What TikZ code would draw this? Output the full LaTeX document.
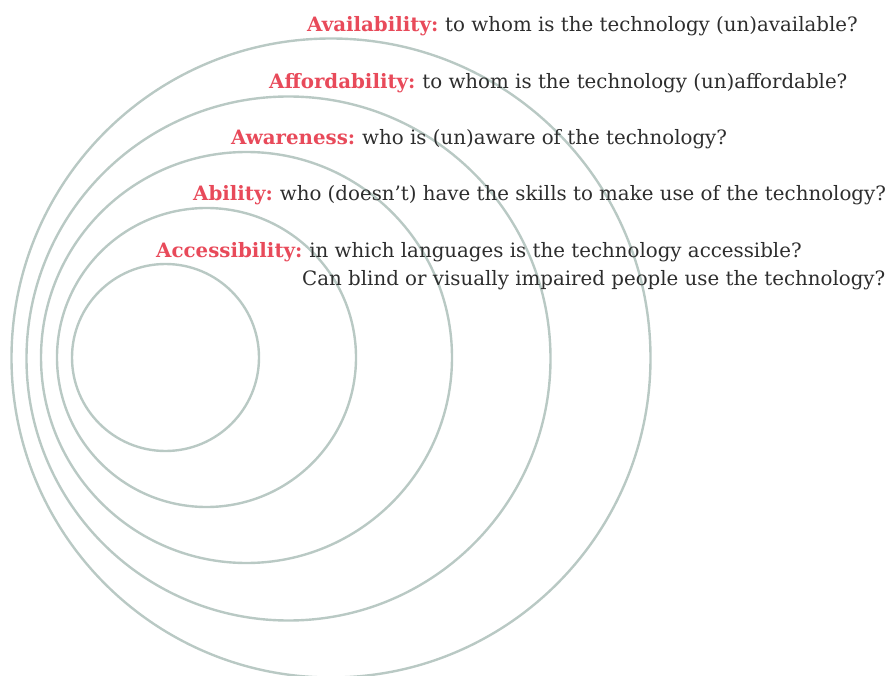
\documentclass[tikz,border=0pt]{standalone}
\usepackage{fontspec}
\setmainfont{DejaVu Serif}
\definecolor{ringcol}{RGB}{185,201,196}
\definecolor{headcol}{RGB}{232,74,90}
\definecolor{bodycol}{RGB}{45,45,45}
\begin{document}
\begin{tikzpicture}[x=1pt,y=-1pt,
  ring/.style={draw=ringcol,line width=2.4pt},
  lbl/.style={anchor=base west,inner sep=0pt,text=bodycol,font=\fontsize{19.8}{27}\selectfont},
  head/.style={text=headcol,font=\bfseries}]
\useasboundingbox (0,0) rectangle (891,676);
% nested rings, all leaning to the left
\draw[ring] (165.5,357.5) circle (93.5);
\draw[ring] (206.5,357.5) circle (149.5);
\draw[ring] (246.5,357.5) circle (205.5);
\draw[ring] (288.5,358.5) circle (262);
\draw[ring] (331,358) circle (319.5);
% labels
\node[lbl] (avail) at (307,32) {{\color{headcol}\bfseries Availability:}\hspace{-1.5pt} to whom is the technology (un)available?};
\node[lbl] (afford) at (269,89) {{\color{headcol}\bfseries Affordability:}\hspace{-1.5pt} to whom is the technology (un)affordable?};
\node[lbl] (aware) at (231,145) {{\color{headcol}\bfseries Awareness:}\hspace{-1.5pt} who is (un)aware of the technology?};
\node[lbl] (abil) at (193,201) {{\color{headcol}\bfseries Ability:}\hspace{-1.5pt} who (doesn’t) have the skills to make use of the technology?};
\node[lbl] (access) at (156,258) {{\color{headcol}\bfseries Accessibility:}\hspace{-1.5pt} in which languages is the technology accessible?};
\node[lbl] (access2) at (302,285) {Can blind or visually impaired people use the technology?};
\end{tikzpicture}
\end{document}
